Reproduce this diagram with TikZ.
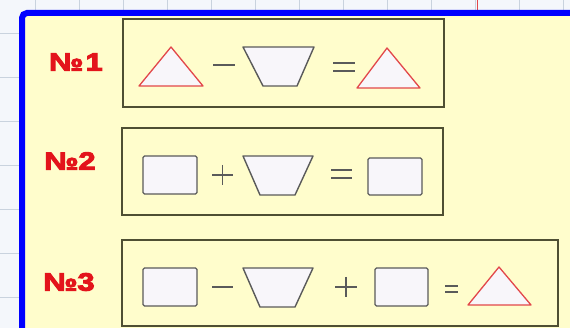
\documentclass[tikz,border=0pt]{standalone}
\usepackage{fontspec}
\newfontfamily\labelfont[FakeBold=4]{Liberation Sans Bold}
\definecolor{paper}{HTML}{F4F7FB}
\definecolor{gridc}{HTML}{C9D3DE}
\definecolor{yellowbg}{HTML}{FFFDCC}
\definecolor{boxc}{HTML}{4F4F33}
\definecolor{trired}{HTML}{E2474A}
\definecolor{graylc}{HTML}{5A5A5A}
\definecolor{shapefill}{HTML}{F8F6FA}
\definecolor{labred}{HTML}{E3141B}
\tikzset{
  gridline/.style={draw=gridc, line width=0.7pt},
  framebox/.style={draw=boxc, line width=1.5pt},
  tri/.style={draw=trired, fill=shapefill, line width=1.3pt, line join=round},
  trap/.style={draw=graylc, fill=shapefill, line width=1.4pt, line join=round},
  sq/.style={draw=graylc, fill=shapefill, line width=1.4pt, rounded corners=1.5pt},
  op/.style={draw=graylc, line width=1.4pt},
  numlabel/.style={text=labred, font=\labelfont\fontsize{25}{25}\selectfont, inner sep=0pt, xscale=1.22}
}
\begin{document}
\begin{tikzpicture}[x=1pt,y=-1pt]
\useasboundingbox (0,0) rectangle (570,328);
\begin{scope}
\clip (0,0) rectangle (570,328);
\fill[paper] (0,0) rectangle (570,328);
\foreach \x in {35,79,...,563} \draw[gridline] (\x,0) -- (\x,12);
\foreach \y in {33,77,...,328} \draw[gridline] (0,\y) -- (19,\y);
\draw[trired, line width=0.8pt] (477,0) -- (477,12);
\filldraw[fill=yellowbg, draw=blue, line width=6pt, rounded corners=5pt] (22,13) rectangle (640,380);
\end{scope}

% labels
\node[numlabel] (n1) at (76,62) {№\hspace{2pt}1};
\node[numlabel] (n2) at (70,161) {№2};
\node[numlabel] (n3) at (69,282) {№3};

% box 1
\draw[framebox] (123,19) rectangle (444,107);
\draw[tri] (139,86) -- (171,47) -- (203,86) -- cycle;
\draw[op] (213,65) -- (235,65);
\draw[trap] (243,47) -- (314,47) -- (297,86) -- (263,86) -- cycle;
\draw[op] (333,63) -- (355,63) (333,71) -- (355,71);
\draw[tri] (357,88) -- (387,48) -- (420,88) -- cycle;

% box 2
\draw[framebox] (122,128) rectangle (443,215);
\draw[sq] (143,156) rectangle (197,194);
\draw[op] (212,175) -- (233,175) (222.5,165) -- (222.5,185);
\draw[trap] (243,156) -- (313,156) -- (295,195) -- (260,195) -- cycle;
\draw[op] (331,170) -- (352,170) (331,178) -- (352,178);
\draw[sq] (368,158) rectangle (422,195);

% box 3
\draw[framebox] (122,240) rectangle (558,326);
\draw[sq] (143,268) rectangle (197,306);
\draw[op] (212,287) -- (233,287);
\draw[trap] (243,268) -- (313,268) -- (295,307) -- (260,307) -- cycle;
\draw[op] (335,287) -- (357,287) (346,277) -- (346,297);
\draw[sq] (375,268) rectangle (428,306);
\draw[op] (445,286) -- (458,286) (445,292) -- (458,292);
\draw[tri] (468,305) -- (499,267) -- (531,305) -- cycle;
\end{tikzpicture}
\end{document}
